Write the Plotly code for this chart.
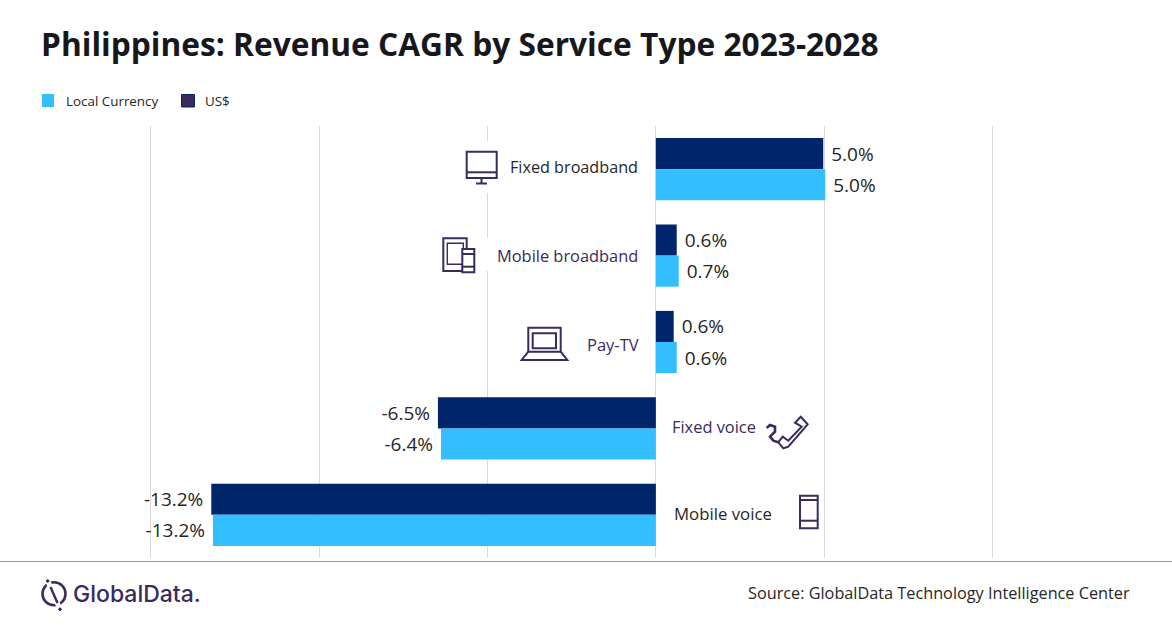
# plot.py
# Philippines revenue CAGR by service type, horizontal grouped bars

import plotly.graph_objects as go

W = 1172
H = 628

categories = ['Fixed broadband', 'Mobile broadband', 'Pay-TV', 'Fixed voice', 'Mobile voice']
usd_values = [4.97, 0.62, 0.53, -6.47, -13.2]
local_values = [5.03, 0.68, 0.62, -6.38, -13.15]
usd_labels = ['5.0%', '0.6%', '0.6%', '-6.5%', '-13.2%']
local_labels = ['5.0%', '0.7%', '0.6%', '-6.4%', '-13.2%']

NAVY = '#00256A'
SKY = '#33BFFF'
PURPLE = '#3A2A5E'
DARK = '#262626'
GRID = '#D9D9D9'
FONT = 'Open Sans'
NBSP = '\u00a0'


# pixel position to figure fraction (margins are 0 so paper = whole figure)
def px(x):
    return x / W


def py(y):
    return 1 - y / H


def poly(points, closed=False, color=PURPLE, width=2, fill=None):
    d = 'M ' + ' L '.join(f'{px(x):.5f},{py(y):.5f}' for x, y in points)
    if closed:
        d += ' Z'
    return dict(type='path', path=d, xref='paper', yref='paper',
                line=dict(color=color, width=width),
                fillcolor=fill if fill else 'rgba(0,0,0,0)', layer='above')


def box(x0, y0, x1, y1, color=PURPLE, width=2, fill=None):
    return dict(type='rect', xref='paper', yref='paper',
                x0=px(x0), x1=px(x1), y0=py(y0), y1=py(y1),
                line=dict(color=color, width=width),
                fillcolor=fill if fill else 'rgba(0,0,0,0)', layer='above')


def white(x0, y0, x1, y1):
    return box(x0, y0, x1, y1, color='white', width=0, fill='white')


def ring(cx, cy, r, color=PURPLE, width=2, fill=None):
    return dict(type='circle', xref='paper', yref='paper',
                x0=px(cx - r), x1=px(cx + r), y0=py(cy - r), y1=py(cy + r),
                line=dict(color=color, width=width),
                fillcolor=fill if fill else 'rgba(0,0,0,0)', layer='above')


def label(x, y, text, size=16, color=DARK, anchor='left', family=FONT, weight=None):
    font = dict(family=family, size=size, color=color)
    if weight:
        font['weight'] = weight
    return dict(x=px(x), y=py(y), xref='paper', yref='paper', text=text,
                showarrow=False, xanchor=anchor, yanchor='middle', font=font)


# nbsp pushes the outside labels a bit further from the bar end
def pad(labels):
    return [NBSP + t if not t.startswith('-') else t + NBSP for t in labels]


fig = go.Figure()
fig.add_trace(go.Bar(y=categories, x=usd_values, name='US$', orientation='h',
                     marker_color=NAVY, text=pad(usd_labels)))
fig.add_trace(go.Bar(y=categories, x=local_values, name='Local Currency', orientation='h',
                     marker_color=SKY, text=pad(local_labels)))
fig.update_traces(textposition='outside', cliponaxis=False, marker_line_width=0,
                  textfont=dict(family=FONT, size=19, color=DARK))

shapes = [
    # white patches behind the icons, they cut the gridline
    white(480, 141, 495, 193),
    white(480, 238, 495, 271),
    # bottom rule
    poly([(0, 561.5), (W, 561.5)], color='#999999', width=1),
    # legend swatches
    box(42, 94, 54, 107, color=SKY, width=0, fill=SKY),
    box(181.5, 94.5, 194.5, 107, color=NAVY, width=1, fill=PURPLE),
    # monitor
    box(466.7, 151.7, 496.7, 178),
    poly([(466.7, 172.3), (496.7, 172.3)]),
    poly([(481.5, 178), (481.5, 183.5)]),
    poly([(476, 183.5), (487, 183.5)]),
    # tablet and phone
    box(443.3, 238.3, 466.7, 271),
    box(447.3, 243.3, 463.3, 264.3, width=1.4),
    box(462.3, 249, 474.3, 272.3, fill='white'),
    poly([(462.3, 254), (474.3, 254)]),
    poly([(462.3, 266.7), (474.3, 266.7)]),
    # laptop
    box(528.3, 327.7, 560.7, 351.7),
    box(532.7, 333.3, 556, 348.3),
    poly([(528.3, 351.7), (521.7, 360), (567.3, 360), (560.7, 351.7)]),
    # handset and cord
    poly([(800.7, 416.7), (807.7, 424.3), (788.3, 446.7), (783.3, 448.3), (778.3, 442.3),
          (782.7, 436.7), (788.3, 440.7), (801.7, 426.7), (795, 422.7)], closed=True),
    poly([(766.7, 428), (770, 425), (775, 426.7), (775, 431.7), (770, 436.7),
          (773.3, 440.7), (778.3, 442.3)], width=2.6),
    # phone
    box(800, 495.7, 817.7, 528.3),
    poly([(800, 500), (817.7, 500)]),
    poly([(800, 520.7), (817.7, 520.7)]),
    # logo
    ring(54, 593.7, 11.5, width=2.6),
    poly([(47.7, 581), (60, 609.3)], color='white', width=5),
    poly([(50.5, 587), (57.5, 603)], width=2.4),
    ring(47.7, 581, 1.3, width=1, fill=PURPLE),
    ring(60, 609.3, 1.3, width=1, fill=PURPLE),
]

annotations = [
    label(39, 43, '<b>Philippines: Revenue CAGR by Service Type 2023-2028</b>', size=31.7, color='#17171C'),
    label(64, 101, 'Local Currency', size=13.4),
    label(203, 101, 'US$', size=13.4),
    label(640, 167, categories[0], size=16.2, anchor='right'),
    label(640, 255, categories[1], size=16.4, color=PURPLE, anchor='right'),
    label(641, 344, categories[2], size=16.5, color=PURPLE, anchor='right'),
    label(670, 426.5, categories[3], size=16.4, color=PURPLE),
    label(672, 513.5, categories[4], size=16.8),
    label(70.5, 594, 'GlobalData.', size=23, color=PURPLE, family='Inter', weight=500),
    label(1132, 593, 'Source: GlobalData Technology Intelligence Center', size=16.25, anchor='right'),
]

fig.update_layout(
    width=W, height=H,
    margin=dict(l=0, r=0, t=0, b=0),
    paper_bgcolor='white', plot_bgcolor='white',
    barmode='group', bargap=0.28, bargroupgap=0,
    showlegend=False,
    shapes=shapes,
    annotations=annotations,
    # range goes half a unit past -15 and 10 so the outer gridlines still draw
    xaxis=dict(domain=[px(133.8), px(1009.5)], range=[-15.5, 10.5], dtick=5, tick0=0,
               showticklabels=False, showgrid=True, gridcolor=GRID, gridwidth=1,
               zeroline=True, zerolinecolor=GRID, zerolinewidth=1),
    yaxis=dict(domain=[py(558), py(126)], autorange='reversed',
               showticklabels=False, showgrid=False, zeroline=False),
)

fig.write_html("out.html", config=dict(displayModeBar=False),
               post_script="document.body.style.margin = '0';")
